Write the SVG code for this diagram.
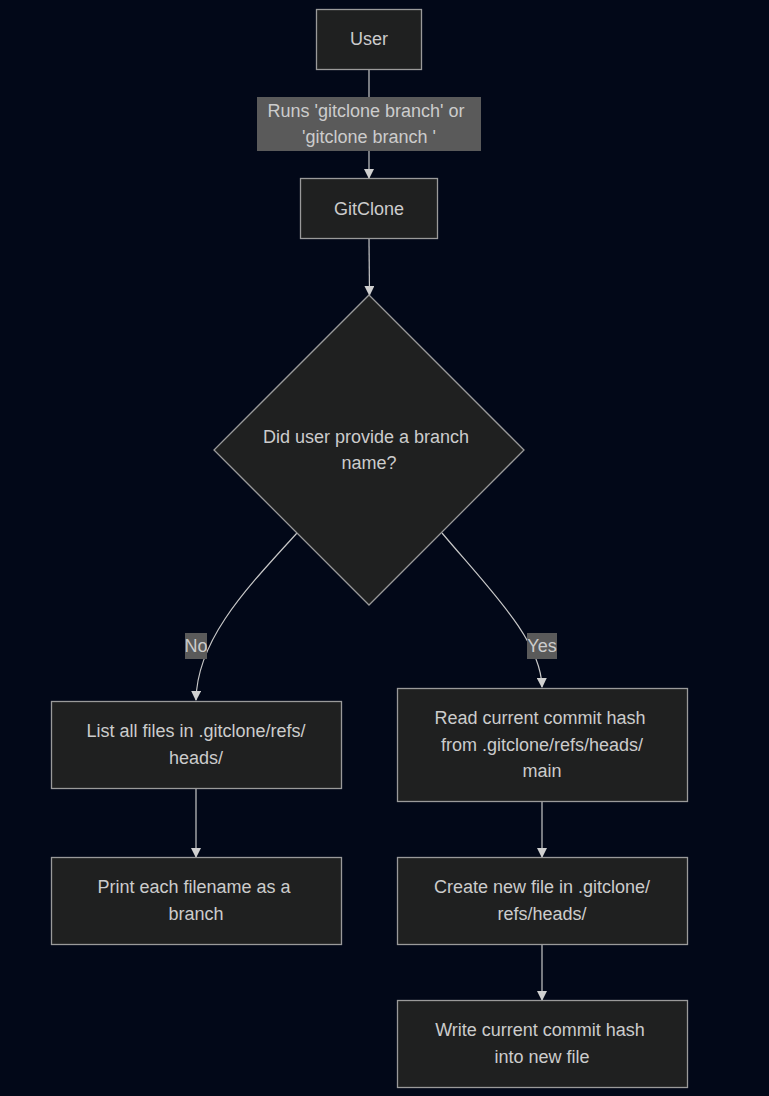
<svg xmlns="http://www.w3.org/2000/svg" width="769" height="1096" viewBox="0 0 769 1096">
<defs>
<style>
.node rect, .node polygon { fill: #1f2020; stroke: #9a9a9a; stroke-width: 1.3; }
text { font-family: "Liberation Sans", Arial, sans-serif; font-size: 18px; fill: #cccccc; text-anchor: middle; }
.edge { fill: none; stroke: #c8c8c8; stroke-width: 1.2; }
.lbl rect { fill: #5a5a5a; }
</style>
<marker id="arr" markerWidth="10" markerHeight="10" refX="9" refY="5" orient="auto" markerUnits="userSpaceOnUse">
<path d="M0,0 L10,5 L0,10 z" fill="#d0d0d0"/>
</marker>
</defs>
<rect width="769" height="1096" fill="#020818"/>
<g id="connectors">
<path class="edge" d="M369,69 L369,178" marker-end="url(#arr)"/>
<path class="edge" d="M369,239 L369.5,295" marker-end="url(#arr)"/>
<path class="edge" d="M297,533 C245,590 197,640 196,700" marker-end="url(#arr)"/>
<path class="edge" d="M442,533 C490,590 541,640 542,687" marker-end="url(#arr)"/>
<path class="edge" d="M196,788 L196,857" marker-end="url(#arr)"/>
<path class="edge" d="M542,801 L542,857" marker-end="url(#arr)"/>
<path class="edge" d="M542,944 L542,1000" marker-end="url(#arr)"/>
<g class="lbl" id="label-runs">
<rect x="257" y="97" width="224" height="54"/>
<text x="366" y="117">Runs 'gitclone branch' or</text>
<text x="369" y="143">'gitclone branch '</text>
</g>
<g class="lbl" id="label-no">
<rect x="185" y="633" width="22" height="26"/>
<text x="196" y="652">No</text>
</g>
<g class="lbl" id="label-yes">
<rect x="527" y="633" width="30" height="26"/>
<text x="542" y="652">Yes</text>
</g>
</g>
<g class="node" id="user">
<rect x="316.5" y="9.5" width="105" height="60"/>
<text x="369" y="45">User</text>
</g>
<g class="node" id="gitclone">
<rect x="300.5" y="178.5" width="137" height="60"/>
<text x="369" y="215">GitClone</text>
</g>
<g class="node" id="decision">
<polygon points="369,295 524,450 369,605 214,450"/>
<text x="366" y="443">Did user provide a branch</text>
<text x="369" y="469">name?</text>
</g>
<g class="node" id="listfiles">
<rect x="51.5" y="701.5" width="290" height="87"/>
<text x="196" y="737">List all files in .gitclone/refs/</text>
<text x="196" y="764">heads/</text>
</g>
<g class="node" id="printeach">
<rect x="51.5" y="857.5" width="290" height="87"/>
<text x="194" y="893">Print each filename as a</text>
<text x="196" y="920">branch</text>
</g>
<g class="node" id="readhash">
<rect x="397.5" y="688.5" width="290" height="113"/>
<text x="540" y="724">Read current commit hash</text>
<text x="542" y="751">from .gitclone/refs/heads/</text>
<text x="542" y="777">main</text>
</g>
<g class="node" id="createfile">
<rect x="397.5" y="857.5" width="290" height="87"/>
<text x="542" y="893">Create new file in .gitclone/</text>
<text x="542" y="920">refs/heads/</text>
</g>
<g class="node" id="writehash">
<rect x="397.5" y="1000.5" width="290" height="87"/>
<text x="540" y="1036">Write current commit hash</text>
<text x="542" y="1063">into new file</text>
</g>
</svg>
